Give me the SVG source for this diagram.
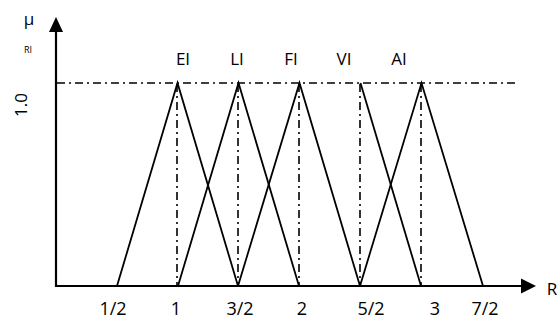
<svg xmlns="http://www.w3.org/2000/svg" width="559" height="320" viewBox="0 0 559 320">
<style>
  .ax { stroke:#000; stroke-width:2.2; fill:none; }
  .tri { stroke:#000; stroke-width:1.8; fill:none; stroke-linejoin:miter; }
  .dd { stroke:#000; stroke-width:1.6; fill:none; stroke-dasharray:8 4 2 4; }
  .lbl { font-family:"Open Sans","Liberation Sans",sans-serif; font-size:17px; fill:#000; text-anchor:middle; }
  .tick { font-family:"Open Sans","Liberation Sans",sans-serif; font-size:18px; fill:#000; text-anchor:middle; }
</style>
<rect width="559" height="320" fill="#fff"/>
<g id="axes">
  <line class="ax" x1="56" y1="287" x2="56" y2="28"/>
  <polygon points="56,17 49,32 63,32" fill="#000"/>
  <line class="ax" x1="55" y1="286" x2="523" y2="286"/>
  <polygon points="536,286 521,278.5 521,293.5" fill="#000"/>
  <text class="lbl" x="29" y="25">μ</text>
  <text class="lbl" x="28" y="53" style="font-size:9px">RI</text>
  <text class="lbl" transform="translate(27,105) rotate(-90)" x="0" y="0">1.0</text>
  <text class="lbl" x="552" y="295">R</text>
</g>
<g id="guides">
  <line class="dd" x1="57" y1="83" x2="518" y2="83"/>
  <line class="dd" x1="177" y1="84" x2="177" y2="286"/>
  <line class="dd" x1="238" y1="84" x2="238" y2="286"/>
  <line class="dd" x1="299" y1="84" x2="299" y2="286"/>
  <line class="dd" x1="360" y1="84" x2="360" y2="286"/>
  <line class="dd" x1="421" y1="84" x2="421" y2="286"/>
</g>
<g id="EI">
  <polyline class="tri" points="117,286 177.5,83 238,286"/>
  <text class="lbl" x="183" y="65">EI</text>
</g>
<g id="LI">
  <polyline class="tri" points="178,286 238.5,83 299,286"/>
  <text class="lbl" x="237" y="65">LI</text>
</g>
<g id="FI">
  <polyline class="tri" points="238,286 299.5,83 360,286"/>
  <text class="lbl" x="291" y="65">FI</text>
</g>
<g id="VI">
  <polyline class="tri" points="360.5,83 421,286"/>
  <text class="lbl" x="344" y="65">VI</text>
</g>
<g id="AI">
  <polyline class="tri" points="360,286 421.5,83 483,286"/>
  <text class="lbl" x="399" y="65">AI</text>
</g>
<g id="ticks">
  <text class="tick" x="113" y="315">1/2</text>
  <text class="tick" x="176" y="315">1</text>
  <text class="tick" x="240" y="315">3/2</text>
  <text class="tick" x="302" y="315">2</text>
  <text class="tick" x="371" y="315">5/2</text>
  <text class="tick" x="435" y="315">3</text>
  <text class="tick" x="485" y="315">7/2</text>
</g>
</svg>
